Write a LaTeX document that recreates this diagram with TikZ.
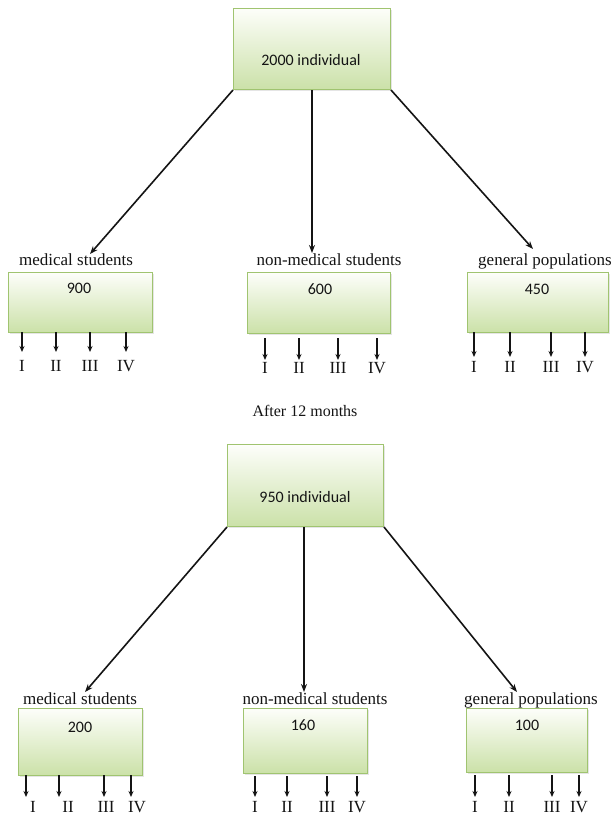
\documentclass[tikz,border=0pt]{standalone}
\usepackage{fontspec}
\setmainfont{Liberation Serif}
\newfontfamily\boxfont{Carlito}
\usetikzlibrary{arrows.meta,shadows}
\definecolor{boxtop}{RGB}{253,254,250}
\definecolor{boxmid}{RGB}{238,245,226}
\definecolor{boxbot}{RGB}{203,225,168}
\definecolor{boxline}{RGB}{160,196,112}
\definecolor{ink}{RGB}{20,20,20}
\tikzset{
  gbox/.style={draw=boxline, line width=1pt, top color=boxtop, middle color=boxmid, bottom color=boxbot,
    inner sep=0pt, anchor=north west,
    drop shadow={opacity=0.2, shadow xshift=1.2pt, shadow yshift=-1.2pt}},
  bigarr/.style={draw=ink, line width=1.6pt, -{Stealth[length=8pt,width=6pt]}},
  smallarr/.style={draw=ink, line width=1.3pt, -{Stealth[length=6pt,width=5pt]}},
  grplabel/.style={font=\fontsize{17}{20}\selectfont, text=ink, inner sep=0pt, anchor=base},
  numlabel/.style={font=\boxfont\fontsize{16}{19}\selectfont, text=ink, inner sep=0pt, anchor=base},
  romlabel/.style={font=\fontsize{17}{20}\selectfont, text=ink, inner sep=0pt, anchor=base},
}
\begin{document}
\begin{tikzpicture}[x=1pt,y=-1pt]
\useasboundingbox[fill=white] (0,0) rectangle (614,815);

% ---------- first tree ----------
\node[gbox, minimum width=157pt, minimum height=81pt] (topbox) at (233,8) {};
\node[numlabel] (toptext) at (311,65) {2000 individual};

\node[grplabel] (l1) at (76,265) {medical students};
\node[grplabel] (l2) at (329,265) {non-medical students};
\node[grplabel] (l3) at (545,265) {general populations};

\coordinate (t1) at (90,254);
\coordinate (t2) at (312,253);
\coordinate (t3) at (533,249);
\draw[bigarr] (topbox.south west) -- (t1);
\draw[bigarr] (topbox.south -| t2) -- (t2);
\draw[bigarr] (topbox.south east) -- (t3);

\node[gbox, minimum width=144pt, minimum height=60pt] (b1) at (8,272) {};
\node[gbox, minimum width=143pt, minimum height=61pt] (b2) at (247,272) {};
\node[gbox, minimum width=141pt, minimum height=60pt] (b3) at (467,272) {};
\node[numlabel] (n1) at (79,293) {900};
\node[numlabel] (n2) at (320,294) {600};
\node[numlabel] (n3) at (537,294) {450};

\foreach \x/\r [count=\i] in {22/I,56/II,90/III,126/IV}{
  \coordinate (aa\i s) at (\x,332);
  \coordinate (aa\i e) at (\x,352);
  \draw[smallarr] (aa\i s) -- (aa\i e);
  \node[romlabel] (ra\i) at (\x,371) {\r};
}
\foreach \x/\r [count=\i] in {265/I,299/II,338/III,377/IV}{
  \coordinate (ab\i s) at (\x,338);
  \coordinate (ab\i e) at (\x,360);
  \draw[smallarr] (ab\i s) -- (ab\i e);
  \node[romlabel] (rb\i) at (\x,373) {\r};
}
\foreach \x/\r [count=\i] in {474/I,510/II,551/III,585/IV}{
  \coordinate (ac\i s) at (\x,332);
  \coordinate (ac\i e) at (\x,357);
  \draw[smallarr] (ac\i s) -- (ac\i e);
  \node[romlabel] (rc\i) at (\x,372) {\r};
}

\node[grplabel, font=\fontsize{16}{19}\selectfont] (after) at (305,416) {After 12 months};

% ---------- second tree ----------
\node[gbox, minimum width=156pt, minimum height=82pt] (midbox) at (227,444) {};
\node[numlabel] (midtext) at (305,502) {950 individual};

\node[grplabel] (m1) at (80,704) {medical students};
\node[grplabel] (m2) at (315,704) {non-medical students};
\node[grplabel] (m3) at (531,704) {general populations};

\coordinate (u1) at (85,692);
\coordinate (u2) at (304,692);
\coordinate (u3) at (517,692);
\draw[bigarr] (midbox.south west) -- (u1);
\draw[bigarr] (midbox.south -| u2) -- (u2);
\draw[bigarr] (midbox.south east) -- (u3);

\node[gbox, minimum width=124pt, minimum height=67pt] (c1) at (18,708) {};
\node[gbox, minimum width=124pt, minimum height=65pt] (c2) at (243,708) {};
\node[gbox, minimum width=121pt, minimum height=64pt] (c3) at (466,708) {};
\node[numlabel] (p1) at (80,732) {200};
\node[numlabel] (p2) at (303,730) {160};
\node[numlabel] (p3) at (527,730) {100};

\foreach \x/\lx/\r [count=\i] in {26/33/I,59/68/II,104/106/III,131/137/IV}{
  \coordinate (ba\i s) at (\x,775);
  \coordinate (ba\i e) at (\x,797);
  \draw[smallarr] (ba\i s) -- (ba\i e);
  \node[romlabel] (sa\i) at (\lx,812) {\r};
}
\foreach \x/\r [count=\i] in {255/I,287/II,327/III,357/IV}{
  \coordinate (bb\i s) at (\x,776);
  \coordinate (bb\i e) at (\x,797);
  \draw[smallarr] (bb\i s) -- (bb\i e);
  \node[romlabel] (sb\i) at (\x,812) {\r};
}
\foreach \x/\r [count=\i] in {475/I,509/II,552/III,579/IV}{
  \coordinate (bc\i s) at (\x,775);
  \coordinate (bc\i e) at (\x,797);
  \draw[smallarr] (bc\i s) -- (bc\i e);
  \node[romlabel] (sc\i) at (\x,812) {\r};
}
\end{tikzpicture}
\end{document}
